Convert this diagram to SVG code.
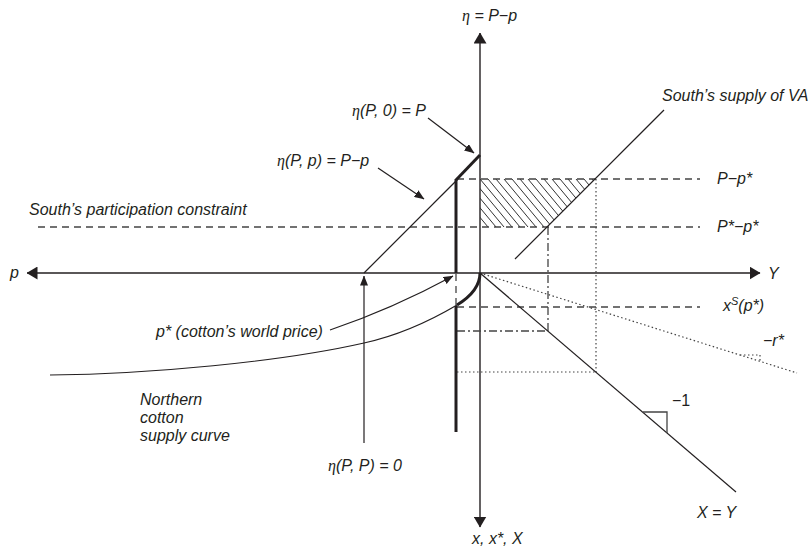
<svg xmlns="http://www.w3.org/2000/svg" width="811" height="548" viewBox="0 0 811 548">
<style>
.ax{stroke:#231f20;stroke-width:1.4;fill:none}
.thin{stroke:#231f20;stroke-width:1.2;fill:none}
.thick{stroke:#231f20;stroke-width:3;fill:none}
.dash{stroke:#444;stroke-width:1.3;stroke-dasharray:7 5;fill:none}
.dot{stroke:#444;stroke-width:1.2;stroke-dasharray:1.5 2.5;fill:none}
.dashdot{stroke:#444;stroke-width:1.3;stroke-dasharray:8 3 2 3;fill:none}
.hatch{stroke:#333;stroke-width:1;fill:none}
text{font-family:"Liberation Sans",Arial,sans-serif;font-size:16px;font-style:italic;fill:#231f20}
.eta{font-family:"Liberation Serif","DejaVu Serif",serif}
.up{font-style:normal}
</style>
<defs>
<marker id="big" viewBox="0 0 11 13" refX="10.5" refY="6.5" markerWidth="11" markerHeight="13" markerUnits="userSpaceOnUse" orient="auto-start-reverse"><path d="M0,0L11,6.5L0,13z" fill="#231f20"/></marker>
<marker id="small" viewBox="0 0 10 8" refX="9.5" refY="4" markerWidth="10" markerHeight="8" markerUnits="userSpaceOnUse" orient="auto"><path d="M0,0L10,4L0,8z" fill="#231f20"/></marker>
<clipPath id="hclip"><polygon points="480,179 595,179 547,227 480,227"/></clipPath>
</defs>

<g id="connectors">
  <!-- axes -->
  <line class="ax" x1="480" y1="33" x2="480" y2="527" marker-start="url(#big)" marker-end="url(#big)"/>
  <line class="ax" x1="27" y1="273" x2="760" y2="273" marker-start="url(#big)" marker-end="url(#big)"/>
  <!-- hatched surplus -->
  <path class="hatch" clip-path="url(#hclip)" d="M448,179l40,48M456,179l40,48M464,179l40,48M472,179l40,48M480,179l40,48M488,179l40,48M496,179l40,48M504,179l40,48M512,179l40,48M520,179l40,48M528,179l40,48M536,179l40,48M544,179l40,48M552,179l40,48M560,179l40,48M568,179l40,48M576,179l40,48M584,179l40,48M592,179l40,48"/>
  <!-- dashed levels -->
  <line class="dash" x1="457" y1="179" x2="700" y2="179"/>
  <line class="dash" x1="38" y1="227" x2="700" y2="227"/>
  <line class="dash" x1="457" y1="307" x2="700" y2="307"/>
  <line class="dash" x1="456" y1="274" x2="456" y2="306"/>
  <!-- dash-dot -->
  <line class="dashdot" x1="548" y1="227" x2="548" y2="331"/>
  <line class="dashdot" x1="457" y1="331" x2="548" y2="331"/>
  <!-- dotted -->
  <line class="dot" x1="596" y1="179" x2="596" y2="372"/>
  <line class="dot" x1="457" y1="372" x2="596" y2="372"/>
  <line class="dot" x1="480" y1="273" x2="797" y2="373"/>
  <path class="dot" d="M740,355H760V361"/>
  <!-- eta lines -->
  <line class="thin" x1="364" y1="273" x2="457" y2="180"/>
  <path class="thick" d="M456,180L480,155"/>
  <line class="thick" x1="456" y1="179" x2="456" y2="273"/>
  <line class="thick" x1="456" y1="306" x2="456" y2="432"/>
  <!-- South's supply of VA -->
  <line class="thin" x1="515" y1="259" x2="664" y2="110"/>
  <!-- X = Y -->
  <line class="thin" x1="480" y1="273" x2="736" y2="492"/>
  <path d="M643,412H667V433" fill="none" stroke="#444" stroke-width="1.3"/>
  <!-- Northern supply curve -->
  <path class="thin" d="M50,375C150,374 280,362 364,343C405,334 435,318 457,305"/>
  <path class="thick" stroke-width="2.6" d="M457,305C470,297 480,286 480,273"/>
  <!-- annotation arrows -->
  <line class="thin" x1="428" y1="118" x2="474" y2="153" marker-end="url(#small)"/>
  <line class="thin" x1="378" y1="168" x2="424" y2="199" marker-end="url(#small)"/>
  <path class="thin" d="M330,330Q392,309 453,276" marker-end="url(#small)"/>
  <line class="thin" x1="364" y1="443" x2="364" y2="276" marker-end="url(#small)"/>
</g>

<g id="axis-eta"><text x="462" y="21"><tspan class="eta">η</tspan> = P−p</text></g>
<g id="axis-x"><text x="472" y="544">x, x*, X</text></g>
<g id="axis-p"><text x="10" y="278">p</text></g>
<g id="axis-Y"><text x="768" y="279">Y</text></g>
<g id="label-eta-P0"><text x="352" y="116"><tspan class="eta">η</tspan>(P, 0) = P</text></g>
<g id="label-eta-Pp"><text x="277" y="166"><tspan class="eta">η</tspan>(P, p) = P−p</text></g>
<g id="label-eta-PP"><text x="328" y="471"><tspan class="eta">η</tspan>(P, P) = 0</text></g>
<g id="label-participation"><text x="29" y="215">South’s participation constraint</text></g>
<g id="label-supply-VA"><text x="662" y="101">South’s supply of VA</text></g>
<g id="label-pstar"><text x="156" y="337">p* (cotton’s world price)</text></g>
<g id="label-northern"><text x="140" y="405">Northern</text><text x="140" y="423">cotton</text><text x="140" y="441">supply curve</text></g>
<g id="label-P-pstar"><text x="717" y="184">P−p*</text></g>
<g id="label-Pstar-pstar"><text x="717" y="232">P*−p*</text></g>
<g id="label-xs"><text x="723" y="311">x<tspan font-size="11" dy="-6">S</tspan><tspan dy="6">(p*)</tspan></text></g>
<g id="label-rstar"><text x="763" y="346">−r*</text></g>
<g id="label-minus1"><text class="up" x="672" y="406">−1</text></g>
<g id="label-XY"><text x="697" y="518">X = Y</text></g>
</svg>
